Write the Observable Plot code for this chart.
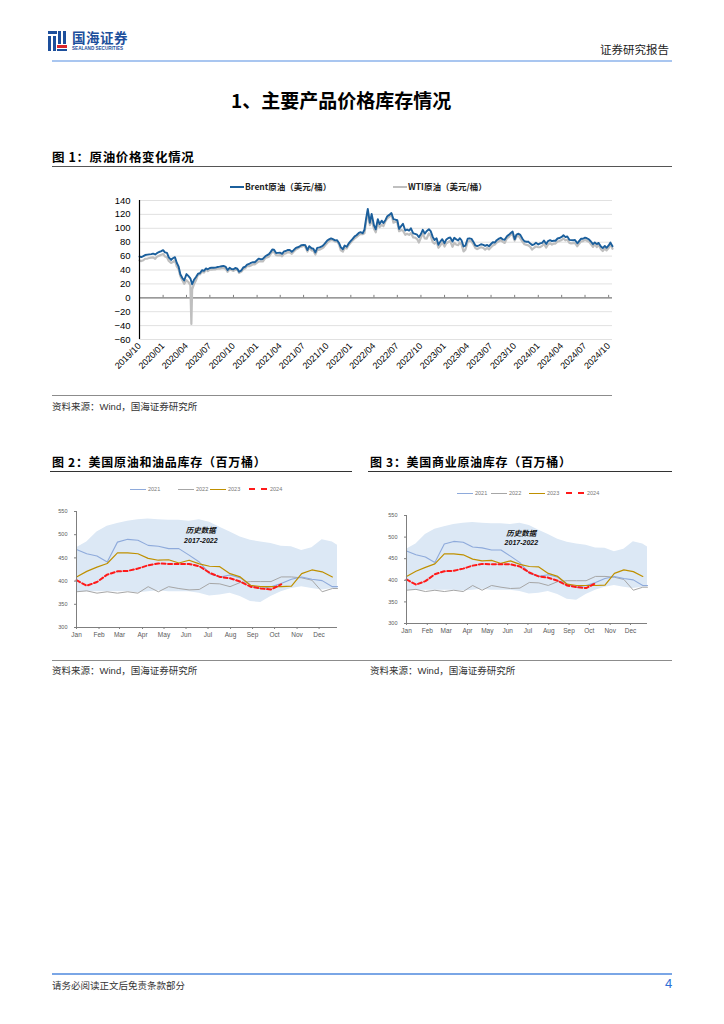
<!DOCTYPE html>
<html><head><meta charset="utf-8">
<script src="https://cdn.jsdelivr.net/npm/d3@7"></script>
<script src="https://cdn.jsdelivr.net/npm/@observablehq/plot@0.6"></script>
<style>
body{margin:0;background:#fff;font-family:"Noto Sans CJK SC","Noto Sans",sans-serif;}
#page{position:relative;width:724px;height:1024px;overflow:hidden;background:#fff;}
.abs{position:absolute;white-space:nowrap;}
.lat{font-family:"Liberation Sans",Arial,sans-serif;}
</style></head><body><div id="page"></div>
<script>
// ---------- Figure 1 data: Brent & WTI (USD/bbl), 4 readings per month ----------
const brent2019 = [59.4,58.6,60.0,61.5, 62.1,62.5,62.8,63.5, 62.4,64.2,65.9,66.7];
const wti2019   = [53.8,52.8,54.0,56.2, 56.5,57.2,57.8,58.1, 56.0,59.2,60.4,61.7];
const brent2020 = [68.6,65.4,64.6,58.3, 54.5,56.9,58.5,50.5, 45.3,33.8,28.5,24.9, 34.1,31.5,28.0,19.5, 26.4,29.9,34.7,35.3, 39.8,38.7,42.2,41.0, 42.8,43.2,43.3,43.4, 44.4,44.8,45.4,45.9, 44.4,39.8,43.2,41.4, 41.0,42.9,41.8,37.5, 39.5,43.6,44.8,47.8, 48.7,50.3,51.2,51.1];
const wti2020   = [63.0,59.6,58.4,53.1, 50.1,51.4,53.8,45.3, 41.3,31.1,25.2,20.1, 25.3,22.8,18.3,12.3, 20.4,25.3,33.5,33.7, 37.3,36.3,40.5,38.5, 40.6,40.6,40.8,41.0, 41.8,41.9,42.6,42.9, 41.5,37.3,40.8,39.9, 38.7,40.2,40.6,35.8, 37.7,41.1,42.4,45.7, 45.6,46.6,48.1,48.2];
const brent2021 = [54.3,56.4,55.4,55.9, 59.3,61.1,62.9,66.1, 69.4,69.2,64.5,64.6, 64.9,63.2,66.8,67.3, 68.9,68.7,66.4,68.5, 71.9,72.7,74.1,75.8, 76.2,75.6,68.6,74.3, 71.3,70.6,65.2,71.8, 72.6,73.5,75.6,78.7, 82.4,84.0,85.5,84.4, 82.7,82.9,78.9,72.7, 69.9,75.2,73.5,77.8];
const wti2021   = [50.6,52.4,52.3,52.2, 56.9,58.2,59.2,63.2, 66.1,65.6,61.4,60.9, 61.5,59.7,63.4,63.9, 65.7,65.4,63.4,66.3, 69.6,70.9,73.1,73.5, 75.2,73.1,66.4,72.2, 68.3,67.7,62.3,68.7, 69.3,70.5,72.2,75.5, 78.9,81.3,83.4,82.8, 80.9,81.2,76.8,68.2, 66.5,71.7,70.9,75.6];
const brent2022 = [81.8,84.7,88.4,90.0, 93.3,94.4,92.9,97.9, 112.9,127.9,107.9,120.7, 104.4,98.5,113.2,106.0, 111.0,107.5,112.0,117.4, 119.7,122.0,113.1,112.5, 111.6,99.1,103.2,106.6, 96.8,98.2,96.7,100.0, 92.8,91.9,90.8,87.2, 91.8,97.9,92.4,95.8, 98.6,95.9,87.6,83.2, 85.6,76.2,81.2,84.3];
const wti2022   = [79.5,82.6,85.4,87.4, 90.0,92.1,91.6,92.8, 108.0,123.7,104.7,112.3, 99.3,94.3,108.2,101.7, 105.0,103.1,110.3,114.1, 116.9,120.7,108.0,109.6, 108.4,95.8,97.6,96.7, 90.7,92.1,90.5,93.1, 86.9,86.6,84.5,79.5, 86.5,92.6,85.6,85.0, 92.6,89.0,80.1,77.9, 81.2,72.0,75.6,79.6];
const brent2023 = [78.6,84.0,86.2,86.7, 80.9,86.4,84.0,82.5, 85.8,82.8,73.8,75.0, 85.0,85.6,84.8,80.8, 75.3,74.2,75.6,77.0, 76.1,74.8,76.1,74.2, 77.4,79.9,79.6,82.9, 85.1,86.4,84.0,83.4, 88.5,90.6,93.3,95.3, 84.1,90.9,92.2,90.5, 84.6,81.4,80.6,80.9, 78.0,76.0,77.0,79.1];
const wti2023   = [73.7,78.4,80.2,81.6, 73.4,79.1,76.3,75.8, 79.7,76.7,66.7,69.3, 80.4,81.9,80.9,77.1, 71.7,70.0,71.7,72.7, 71.7,69.4,71.8,69.6, 72.6,75.4,76.7,79.6, 81.4,83.0,80.4,78.9, 85.6,87.3,91.7,90.8, 82.3,87.7,89.4,85.5, 80.4,77.0,76.1,75.5, 73.1,69.5,72.0,73.9];
const brent2024 = [76.8,78.2,79.1,82.4, 77.3,81.6,83.0,81.6, 82.0,82.1,85.3,86.0, 87.5,89.9,87.3,88.4, 83.4,83.0,82.9,83.1, 78.4,81.6,85.1,85.0, 86.5,85.7,84.1,81.4, 77.2,79.7,77.2,79.0, 73.8,71.6,74.7,71.9, 75.4,79.4,74.3];
const wti2024   = [72.7,72.8,74.8,77.4, 72.3,76.8,78.5,76.5, 78.0,78.0,81.0,81.6, 83.1,85.4,82.7,83.6, 79.0,78.4,78.7,78.6, 74.2,77.9,81.3,81.5, 83.4,82.2,80.8,77.6, 73.2,76.9,73.0,75.9, 70.0,67.3,71.0,68.2, 71.7,77.1,70.6];
const wtiSpikeDates  = ["2020-04-20"];
const wtiSpikeValues = [-37.6];
const priceTicks = [-60,-40,-20,0,20,40,60,80,100,120,140];
const seriesNames = ["Brent原油（美元/桶）","WTI原油（美元/桶）"];

// ---------- Figures 2 & 3 data: US inventories (million bbl), by week of year ----------
const invWeeks = [1,3,5,7,9,11,13,15,17,19,21,23,25,27,29,31,33,35,37,39,41,43,45,47,49,51,52];
const histHigh = [472,484,506,518,524,529,532,534,532,531,531,529,532,527,516,506,495,488,484,481,475,474,466,472,489,484,477];
const histLow  = [377,377,377,377,377,377,375,377,379,377,377,377,374,368,370,374,367,356,354,367,377,384,388,384,381,384,384];
const inv2021  = [468,459,454,441,484,490,488,477,475,470,470,456,441,416,409,413,407,391,384,388,395,404,409,404,401,388,388];
const inv2022  = [377,379,374,377,374,377,374,388,377,388,384,381,382,395,394,388,397,399,399,399,409,409,407,402,377,384,384];
const inv2023  = [409,421,430,438,461,461,459,449,445,446,439,445,437,432,431,416,409,391,388,388,388,389,416,424,420,409];
const inv2024  = [402,390,398,414,421,422,427,434,438,437,437,437,432,418,409,406,399,388,384,382,393];
const invTicks = [300,350,400,450,500,550];
const monthWeeks = [1,5.4,9.4,13.9,18.1,22.4,26.7,31.1,35.4,39.7,44.1,48.4];
const monthNames = ["Jan","Feb","Mar","Apr","May","Jun","Jul","Aug","Sep","Oct","Nov","Dec"];
const invYears = ["2021","2022","2023","2024"];
const bandLabel = ["历史数据","2017-2022"];

// ---------- page helpers ----------
const page = document.getElementById("page");
function put(html, x, y, size, extra = "") {
  const d = document.createElement("div");
  d.className = "abs";
  d.style.cssText = `left:${x}px;top:${y - size * 0.65}px;font-size:${size}px;line-height:${size * 1.3}px;${extra}`;
  d.innerHTML = html; page.appendChild(d); return d;
}
function hline(x1, x2, y, color, w) {
  const d = document.createElement("div");
  d.className = "abs";
  d.style.cssText = `left:${x1}px;top:${y - w / 2}px;width:${x2 - x1}px;height:${w}px;background:${color};`;
  page.appendChild(d);
}
function holder(x, y) {
  const d = document.createElement("div");
  d.className = "abs"; d.style.left = x + "px"; d.style.top = y + "px";
  page.appendChild(d); return d;
}

// ---------- header ----------
const logo = holder(47, 30);
logo.innerHTML = `<svg width="90" height="24" viewBox="0 0 90 24">
 <rect x="1" y="1" width="9" height="3" fill="#1d4f9c"/><rect x="1" y="6" width="3" height="15" fill="#1d4f9c"/>
 <rect x="6" y="6" width="3" height="15" fill="#1d4f9c"/><rect x="11" y="1" width="3" height="13" fill="#1d4f9c"/>
 <rect x="16" y="1" width="3" height="13" fill="#1d4f9c"/><rect x="10" y="15" width="10" height="3" fill="#d9262c"/>
 <rect x="10" y="19" width="10" height="2" fill="#1d4f9c"/></svg>`;
put("国海证券", 72, 38, 13.5, "color:#1d4f9c;font-weight:700;letter-spacing:0.5px;");
put("SEALAND SECURITIES", 72, 48.5, 4.6, "color:#1d4f9c;font-family:'Liberation Sans';font-weight:700;");
put("证券研究报告", 600, 49, 11.5, "color:#222;");
hline(52, 672, 61, "#a9c6f0", 2);

// ---------- section title ----------
put("1、主要产品价格库存情况", 231, 100, 19, "font-weight:700;color:#000;");

// ---------- figure 1 ----------
put("图 1：原油价格变化情况", 52, 157, 12.5, "font-weight:700;color:#000;letter-spacing:0.6px;");
hline(52, 672, 166.5, "#555", 1.3);

const leg1 = holder(0, 181);
leg1.innerHTML = `
 <div class="abs" style="left:230px;top:5px;width:14px;height:2px;background:#1b5f9c"></div>
 <div class="abs" style="left:245px;top:0;font-size:8.5px;line-height:11px;font-weight:700;color:#222">${seriesNames[0]}</div>
 <div class="abs" style="left:393px;top:5px;width:14px;height:2px;background:#bfbfbf"></div>
 <div class="abs" style="left:408px;top:0;font-size:8.5px;line-height:11px;font-weight:700;color:#222">${seriesNames[1]}</div>`;

function buildSeries(arr, year, startMonth) {
  return arr.map((v, i) => ({
    date: new Date(Date.UTC(year, startMonth + Math.floor(i / 4), 1 + Math.floor((i % 4) * 7.5))),
    value: v
  }));
}
const brent = [
  ...buildSeries(brent2019, 2019, 9), ...buildSeries(brent2020, 2020, 0), ...buildSeries(brent2021, 2021, 0),
  ...buildSeries(brent2022, 2022, 0), ...buildSeries(brent2023, 2023, 0), ...buildSeries(brent2024, 2024, 0)
];
const wti = [
  ...buildSeries(wti2019, 2019, 9), ...buildSeries(wti2020, 2020, 0), ...buildSeries(wti2021, 2021, 0),
  ...buildSeries(wti2022, 2022, 0), ...buildSeries(wti2023, 2023, 0), ...buildSeries(wti2024, 2024, 0),
  ...wtiSpikeDates.map((d, i) => ({date: new Date(d), value: wtiSpikeValues[i]}))
].sort((a, b) => a.date - b.date);

const xStart = brent[0].date, xEnd = brent[brent.length - 1].date;
const quarterTicks = d3.utcMonth.every(3).range(xStart, d3.utcDay.offset(xEnd, 1));

const fig1 = Plot.plot({
  width: 570, height: 195, marginLeft: 87, marginRight: 10, marginTop: 5, marginBottom: 51,
  style: {fontFamily: "'Liberation Sans', Arial, sans-serif", fontSize: "9.5px", color: "#000", background: "transparent"},
  x: {type: "utc", domain: [xStart, xEnd]},
  y: {domain: [-60, 140]},
  marks: [
    Plot.gridY(priceTicks, {stroke: "#d9d9d9", strokeOpacity: 1, strokeWidth: 0.8}),
    Plot.ruleY([0], {stroke: "#7f7f7f", strokeWidth: 1.2}),
    Plot.ruleX(quarterTicks, {y1: 0, y2: 3.5, stroke: "#7f7f7f", strokeWidth: 1}),
    Plot.line(wti, {x: "date", y: "value", stroke: "#bfbfbf", strokeWidth: 2.2}),
    Plot.line(brent, {x: "date", y: "value", stroke: "#1b5f9c", strokeWidth: 1.9}),
    Plot.ruleX([xStart], {stroke: "#000", strokeWidth: 1.2}),
    Plot.axisY(priceTicks, {tickSize: 0, tickPadding: 9, fontSize: 9.5, label: null}),
    Plot.axisX(quarterTicks, {tickFormat: d3.utcFormat("%Y/%m"), tickRotate: -45, tickSize: 0, tickPadding: 5, fontSize: 9, label: null})
  ]
});
holder(52, 195).appendChild(fig1);

hline(52, 612, 395.5, "#8c8c8c", 1);
put('资料来源：<span class="lat">Wind</span>，国海证券研究所', 52, 406, 9.5, "color:#333;");

// ---------- figures 2 & 3 ----------
function invChart(w, h, mt, mb, textX) {
  const band = invWeeks.map((wk, i) => ({w: wk, lo: histLow[i], hi: histHigh[i]}));
  const ser = arr => arr.map((v, i) => ({w: invWeeks[i], v}));
  return Plot.plot({
    width: w, height: h, marginLeft: 36, marginRight: 10, marginTop: mt, marginBottom: mb,
    style: {fontFamily: "'Liberation Sans', Arial, sans-serif", fontSize: "6px", color: "#595959", background: "transparent"},
    x: {domain: [1, 52]},
    y: {domain: [300, 550]},
    marks: [
      Plot.areaY(band, {x: "w", y1: "lo", y2: "hi", fill: "#dce8f5", curve: "linear"}),
      Plot.line(ser(inv2022), {x: "w", y: "v", stroke: "#a6a6a6", strokeWidth: 1}),
      Plot.line(ser(inv2021), {x: "w", y: "v", stroke: "#8eaadb", strokeWidth: 1.1}),
      Plot.line(ser(inv2023), {x: "w", y: "v", stroke: "#bf9000", strokeWidth: 1.2}),
      Plot.line(ser(inv2024), {x: "w", y: "v", stroke: "#ff1a1a", strokeWidth: 2, strokeDasharray: "4,2.5"}),
      Plot.text(bandLabel.slice(0, 1), {x: textX, y: 509, text: d => d, fontSize: 7.5, fontWeight: "bold", fontStyle: "italic", fill: "#111", fontFamily: "'Noto Sans CJK SC'"}),
      Plot.text(bandLabel.slice(1), {x: textX, y: 486, text: d => d, fontSize: 7, fontWeight: "bold", fontStyle: "italic", fill: "#111"}),
      Plot.ruleX([1], {stroke: "#7f7f7f", strokeWidth: 1}),
      Plot.ruleY([300], {stroke: "#7f7f7f", strokeWidth: 1}),
      Plot.axisY(invTicks, {tickSize: 2, tickPadding: 7, fontSize: 5.5, stroke: "#7f7f7f", label: null}),
      Plot.axisX(monthWeeks, {tickFormat: d => monthNames[monthWeeks.indexOf(d)], tickSize: 2, tickPadding: 3, fontSize: 6.5, stroke: "#7f7f7f", label: null})
    ]
  });
}
function invLegend(y, pos) {
  const colors = ["#8eaadb", "#a6a6a6", "#bf9000", "#ff1a1a"];
  const lg = holder(0, y);
  lg.innerHTML = invYears.map((yr, i) => {
    const sw = i === 3
      ? `<div class="abs" style="left:${pos[i]}px;top:3px;width:18px;height:0;border-top:2px dashed ${colors[i]}"></div>`
      : `<div class="abs" style="left:${pos[i]}px;top:3.5px;width:16px;height:1px;background:${colors[i]}"></div>`;
    return sw + `<div class="abs lat" style="left:${pos[i] + (i === 3 ? 21 : 18)}px;top:0;font-size:5.5px;line-height:8px;color:#777">${yr}</div>`;
  }).join("");
}

put("图 2：美国原油和油品库存（百万桶）", 52, 462, 12, "font-weight:700;color:#000;letter-spacing:0.7px;");
hline(50, 352, 471.5, "#333", 1.3);
invLegend(485, [130, 178, 210, 249]);
holder(40, 495).appendChild(invChart(307, 150, 16, 18, 25.3));

put("图 3：美国商业原油库存（百万桶）", 370, 462, 12, "font-weight:700;color:#000;letter-spacing:0.7px;");
hline(368, 672, 471.5, "#333", 1.3);
invLegend(489, [457, 491, 529, 566]);
holder(370, 500).appendChild(invChart(287, 142, 15, 19, 25.3));

hline(52, 672, 660.5, "#8c8c8c", 1);
put('资料来源：<span class="lat">Wind</span>，国海证券研究所', 52, 670, 9.5, "color:#333;");
put('资料来源：<span class="lat">Wind</span>，国海证券研究所', 370, 670, 9.5, "color:#333;");

// ---------- footer ----------
hline(52, 672, 974, "#7aa6e6", 2);
put("请务必阅读正文后免责条款部分", 52, 985, 9.5, "color:#333;");
put("4", 665, 984, 13, "color:#2d6fd6;font-family:'Liberation Sans';");
</script></body></html>
